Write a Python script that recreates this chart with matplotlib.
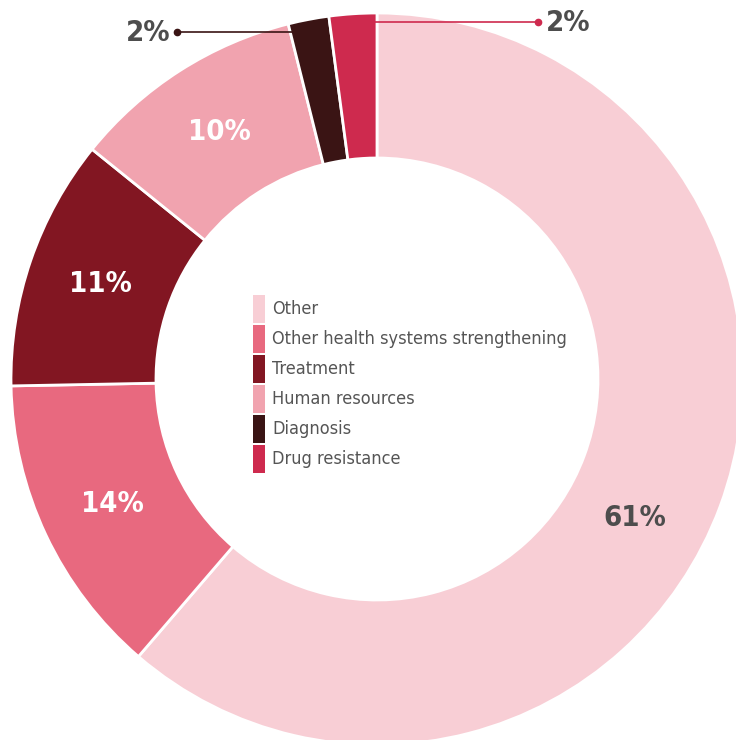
import numpy as np
import matplotlib
matplotlib.use("Agg")
import matplotlib.pyplot as plt
from matplotlib.patches import Rectangle

categories = ["Other", "Other health systems strengthening", "Treatment",
              "Human resources", "Diagnosis", "Drug resistance"]
values = [61.3, 13.4, 11.1, 10.3, 1.8, 2.1]
labels = ["61%", "14%", "11%", "10%", "2%", "2%"]
colors = ["#F8CED5", "#E8697F", "#821622", "#F1A3AF", "#3A1414", "#CE2A4E"]

FONT = ["DejaVu Sans"]
STRETCH = "condensed"
GREY = "#4d4d4d"

W, H = 736, 740
fig = plt.figure(figsize=(W / 100, H / 100), dpi=100)
ax = fig.add_axes([0, 0, 1, 1])

cx, cy = 377, H - 379
R, r_in = 366, 221

wedges, _ = ax.pie(values, colors=colors, startangle=90, counterclock=False,
                   radius=R, center=(cx, cy),
                   wedgeprops=dict(width=R - r_in, edgecolor="white", linewidth=2))
ax.set_xlim(0, W)
ax.set_ylim(0, H)
ax.set_aspect("equal")
ax.axis("off")

# labels inside the big slices
shift = [-8, 0, 0, 0]
for i in range(4):
    w = wedges[i]
    a = np.deg2rad((w.theta1 + w.theta2) / 2 + shift[i])
    rr = 0.8 * R
    col = GREY if i == 0 else "white"
    ax.text(cx + rr * np.cos(a), cy + rr * np.sin(a), labels[i], color=col,
            fontsize=21, fontweight="bold", family=FONT, fontstretch=STRETCH,
            ha="center", va="center")

# callouts for the two small slices
callouts = {4: (347, 177, "right"), 5: (357, 538, "left")}
for i, (h, xdot, side) in callouts.items():
    w = wedges[i]
    a = np.deg2rad((w.theta1 + w.theta2) / 2)
    rr = h / np.sin(a)
    x0 = cx + rr * np.cos(a)
    yl = cy + h
    ax.plot([x0, xdot], [yl, yl], color=colors[i], lw=1.2, zorder=5)
    ax.plot([xdot], [yl], "o", color=colors[i], ms=4.5, zorder=6)
    dx = -7 if side == "right" else 8
    ax.text(xdot + dx, yl - 1, labels[i], color=GREY, fontsize=21, fontweight="bold",
            family=FONT, fontstretch=STRETCH, ha=side, va="center")

# legend in the hole
lx, ly0, pitch = 253, H - 295, 30
for k, (name, c) in enumerate(zip(categories, colors)):
    top = ly0 - k * pitch
    ax.add_patch(Rectangle((lx, top - 28), 12, 28, facecolor=c, edgecolor="none"))
    ax.text(lx + 19, top - 14, name, color="#555555", fontsize=13,
            family=FONT, fontstretch=STRETCH, ha="left", va="center")

fig.savefig("out.png", dpi=100)
